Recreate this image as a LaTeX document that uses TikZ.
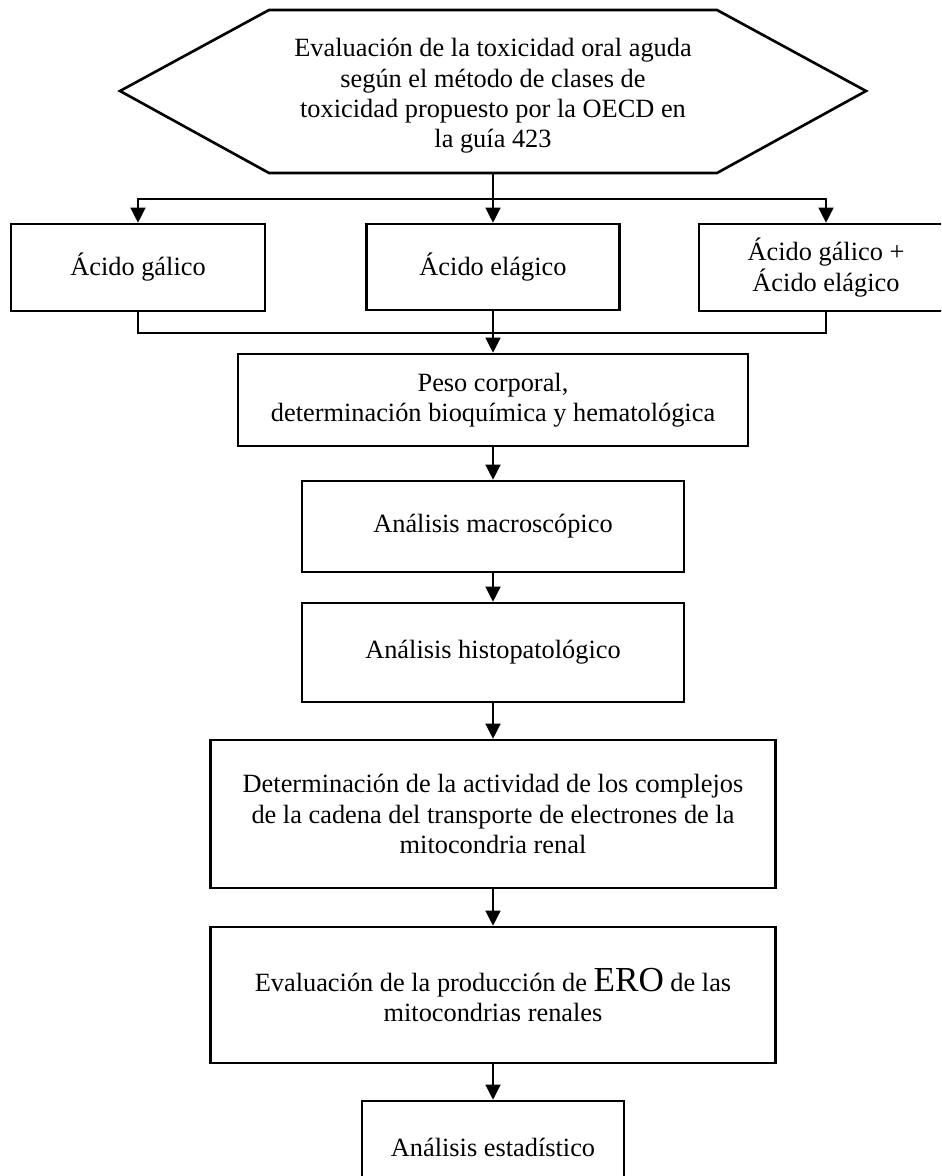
\documentclass[tikz,border=0pt]{standalone}
\usepackage{fontspec}
\setmainfont{Liberation Serif}
\usetikzlibrary{arrows.meta}

\begin{document}
\begin{tikzpicture}[x=0.02cm, y=-0.02cm,
        every node/.style={font=\fontsize{15}{17.2}\selectfont, align=center},
        box/.style={draw, line width=1.5pt, inner sep=0pt},
        link/.style={line width=0.75pt},
        arr/.style={link, -{Triangle[length=0.3cm, width=0.3cm]}}]
    \clip (0,0) rectangle (941,1176);

    % hexagono de entrada
    \draw[line width=1.5pt, line join=miter] (120,91) -- (269,10) -- (717,10) -- (866,91) -- (717,173) -- (269,173) -- cycle;
    \node (eval) at (493,96) {Evaluación de la toxicidad oral aguda\\ según el método de clases de\\ toxicidad propuesto por la OECD en\\ la guía 423};
    \coordinate (evalbot) at (493,173);
    \coordinate (split) at (493,199);
    \coordinate (merge) at (493,333);

    % tratamientos
    \node[box, minimum width=5.08cm, minimum height=1.74cm] (galico) at (138,267.5) {Ácido gálico};
    \node[box, minimum width=5.06cm, minimum height=1.72cm] (elagico) at (493,267) {Ácido elágico};
    \node[box, minimum width=5.08cm, minimum height=1.74cm] (mezcla) at (826,267.5) {Ácido gálico +\\ Ácido elágico};

    \draw[link] (evalbot) -- (split);
    \draw[arr] (split) -| (galico.north);
    \draw[arr] (split) -- (elagico.north);
    \draw[arr] (split) -| (mezcla.north);

    % secuencia de analisis
    \node[box, minimum width=10.2cm, minimum height=1.84cm] (peso) at (493,400) {Peso corporal,\\ determinación bioquímica y hematológica};
    \node[box, minimum width=7.64cm, minimum height=1.82cm] (macro) at (493,526.5) {Análisis macroscópico};
    \node[box, minimum width=7.64cm, minimum height=1.98cm] (histo) at (493,652.5) {Análisis histopatológico};
    \node[box, minimum width=11.3cm, minimum height=2.96cm] (cadena) at (493,814) {Determinación de la actividad de los complejos\\ de la cadena del transporte de electrones de la\\ mitocondria renal};
    \node[box, minimum width=11.3cm, minimum height=2.72cm] (ero) at (493,995) {Evaluación de la producción de {\fontsize{20}{17.2}\selectfont ERO} de las\\ mitocondrias renales};
    \node[box, minimum width=5.24cm, minimum height=1.84cm] (estad) at (493,1147) {Análisis estadístico};

    \draw[link] (galico.south) |- (merge);
    \draw[link] (mezcla.south) |- (merge);
    \draw[arr] (elagico.south) -- (peso.north);
    \draw[arr] (peso) -- (macro);
    \draw[arr] (macro) -- (histo);
    \draw[arr] (histo) -- (cadena);
    \draw[arr] (cadena) -- (ero);
    \draw[arr] (ero) -- (estad);
\end{tikzpicture}
\end{document}
